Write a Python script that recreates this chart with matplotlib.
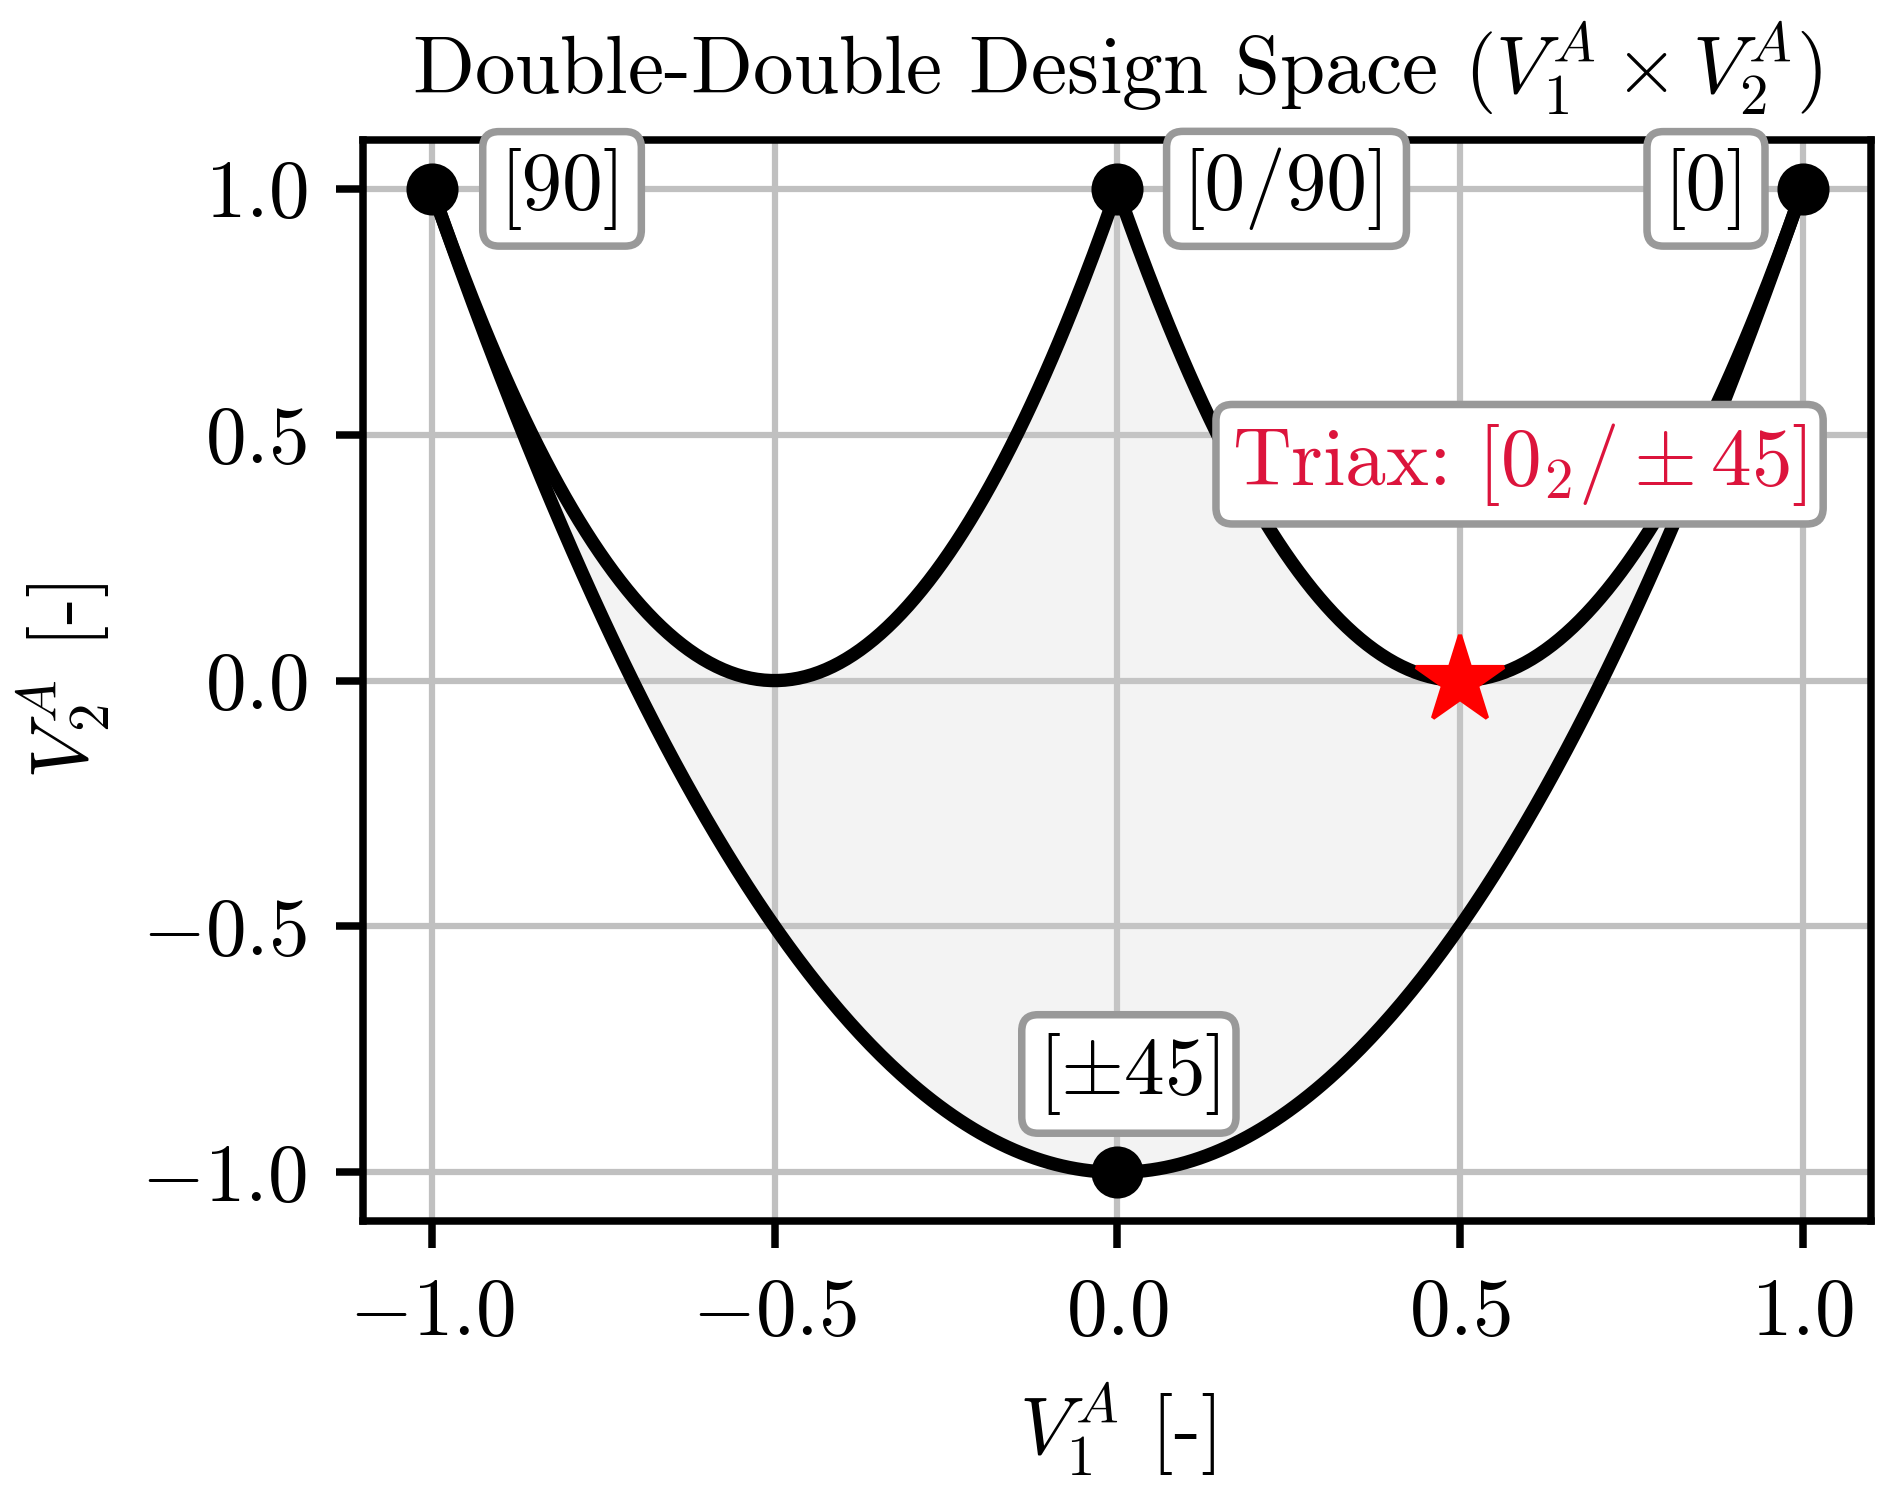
import numpy as np
import matplotlib.pyplot as plt

plt.rcParams['font.family'] = 'serif'
plt.rcParams['font.serif'] = ['cmr10']
plt.rcParams['mathtext.fontset'] = 'cm'
plt.rcParams['axes.formatter.use_mathtext'] = True
plt.rcParams['axes.unicode_minus'] = True

# corner laminates of the double-double space
corner_x = [-1.0, 0.0, 1.0, 0.0]
corner_y = [1.0, 1.0, 1.0, -1.0]
corner_labels = ['[90]', '[0/90]', '[0]', r'[$\pm$45]']
label_x = [-0.81, 0.247, 0.859, 0.017]
label_y = [1.0, 1.0, 1.0, -0.80]

triax_x = [0.5]
triax_y = [0.0]
triax_label = r'Triax: $[0_2/\pm 45]$'

# boundaries of the feasible region
v1 = np.linspace(-1.0, 1.0, 401)
outer = 2 * v1 ** 2 - 1
inner = np.where(v1 <= 0, (2 * v1 + 1) ** 2, (2 * v1 - 1) ** 2)

fs = 19.5
fig = plt.figure(figsize=(1892 / 300, 1486 / 300), dpi=300)
ax = fig.add_axes([0.192, 0.178, 0.797, 0.728])

ax.fill_between(v1, outer, inner, color='lightgray', alpha=0.25, lw=0, zorder=1)
ax.plot(v1, outer, color='black', lw=3.2, zorder=3)
ax.plot(v1, inner, color='black', lw=3.2, zorder=3)
ax.plot(corner_x, corner_y, 'o', color='black', ms=11.5, zorder=4)
ax.plot(triax_x, triax_y, '*', color='red', ms=22, zorder=5)

box = dict(boxstyle='round,pad=0.2', fc='white', ec='#999999', lw=1.8)
for x, y, s in zip(label_x, label_y, corner_labels):
    ax.text(x, y, s, ha='center', va='center', fontsize=fs, bbox=box, zorder=6)
ax.text(0.587, 0.44, triax_label, ha='center', va='center', fontsize=fs,
        color='crimson', bbox=box, zorder=6)

ax.set_xlim(-1.1, 1.1)
ax.set_ylim(-1.1, 1.1)
ax.set_xticks([-1.0, -0.5, 0.0, 0.5, 1.0])
ax.set_yticks([-1.0, -0.5, 0.0, 0.5, 1.0])
ax.grid(True, color='#c0c0c0', lw=1.5)
ax.set_axisbelow(True)
ax.tick_params(labelsize=fs, width=1.8, length=6.5, pad=7)
for sp in ax.spines.values():
    sp.set_linewidth(1.8)

ax.set_xlabel(r'$V_1^A$ [-]', fontsize=fs, labelpad=7)
ax.set_ylabel(r'$V_2^A$ [-]', fontsize=fs, labelpad=7)
ax.set_title(r'Double-Double Design Space ($V_1^A \times V_2^A$)', fontsize=fs, pad=11)

fig.savefig('out.png', dpi=300)
